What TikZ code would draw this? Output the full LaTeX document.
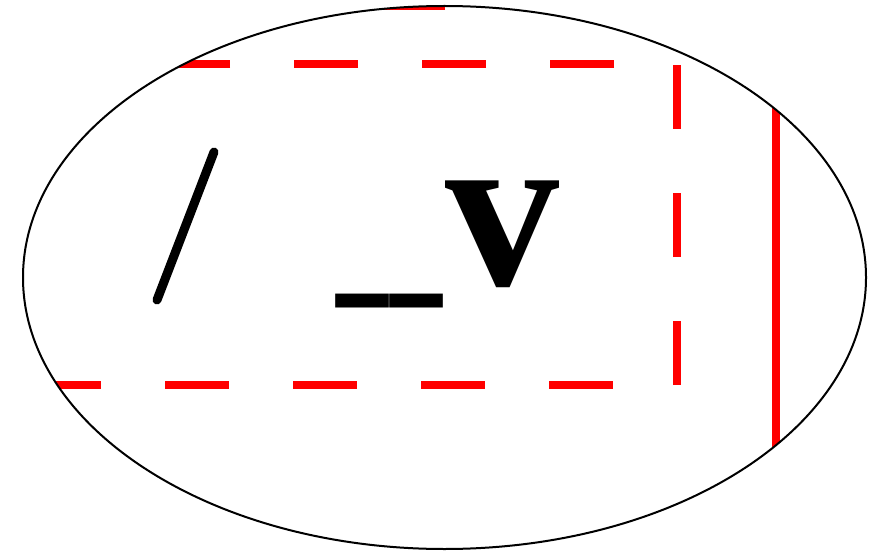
\documentclass[tikz,border=0pt]{standalone}
\usepackage{fontspec}
\usepackage{graphicx}
\setmainfont{Liberation Serif}
\tikzset{
  x=1pt, y=-1pt,
  rim/.style={draw=black, line width=2},
  redline/.style={draw=red, line width=8},
  reddash/.style={draw=red, line width=8, dash pattern=on 64 off 64},
  bigtext/.style={inner sep=0pt, font=\bfseries\fontsize{228}{228}\selectfont},
  bartext/.style={inner sep=0pt, font=\bfseries\fontsize{104}{104}\selectfont},
}
\begin{document}
\begin{tikzpicture}
\useasboundingbox (0,0) rectangle (877,553);
\begin{scope}
  \clip (444.5,277.5) ellipse [x radius=421.5, y radius=271.5];
  \draw[reddash] (-91,385) -- (677,385) -- (677,64) -- (-91,64) -- cycle;
  \draw[redline] (776,0) -- (776,553);
  \draw[draw=red, line width=5] (380,8) -- (445,8);
\end{scope}
\draw[rim] (444.5,277.5) ellipse [x radius=421.5, y radius=271.5];
\draw[line width=9, line cap=round] (157,300) -- (214,152);
\node[bartext, anchor=south west] (bars) at (336,308) {\scalebox{1}[1.9]{\_\kern2pt\_}};
\node[bigtext, anchor=base west] (vee) at (445,285) {v};
\end{tikzpicture}
\end{document}
